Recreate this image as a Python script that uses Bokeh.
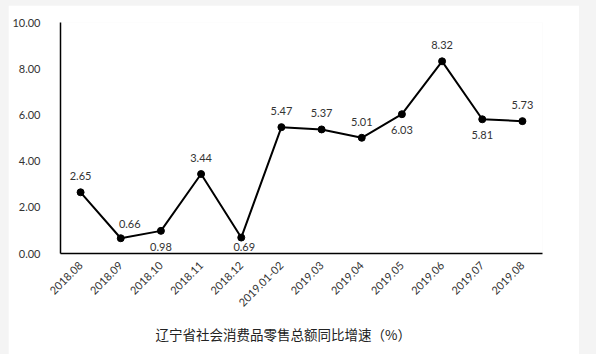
from math import pi
from bokeh.plotting import figure
from bokeh.models import ColumnDataSource, FactorRange, Range1d, NumeralTickFormatter, Title, FixedTicker, CDSView, IndexFilter
from bokeh.layouts import column
from bokeh.embed import file_html
from bokeh.resources import INLINE
from bokeh.core.properties import value

months = ["2018.08", "2018.09", "2018.10", "2018.11", "2018.12", "2019.01-02",
          "2019.03", "2019.04", "2019.05", "2019.06", "2019.07", "2019.08"]
growth = [2.65, 0.66, 0.98, 3.44, 0.69, 5.47, 5.37, 5.01, 6.03, 8.32, 5.81, 5.73]
y_ticks = [0, 2, 4, 6, 8, 10]
chart_title = "辽宁省社会消费品零售总额同比增速（%）"

labels = ["%.2f" % v for v in growth]
src = ColumnDataSource(data=dict(m=months, v=growth, t=labels))

p = figure(x_range=FactorRange(*months, range_padding=0), y_range=Range1d(0, 10),
           width=571, height=349, output_backend="svg", toolbar_location=None,
           min_border_left=52, min_border_right=37, min_border_top=17, min_border_bottom=101,
           background_fill_color="white", border_fill_color="white", outline_line_color=None)
p.margin = (5, 17, 0, 8)

p.line("m", "v", source=src, line_color="black", line_width=2)
p.scatter("m", "v", source=src, size=7, fill_color="black", line_color="black")

FONT = "Lato"
common = dict(source=src, text_font=value(FONT), text_font_size="11px", text_color="#333333",
              text_align="center", text_baseline="middle")
p.text("m", "v", text="t", y_offset=-16, view=CDSView(filter=IndexFilter([0, 3, 5, 6, 7, 9, 11])), **common)
p.text("m", "v", text="t", y_offset=-14, x_offset=9, view=CDSView(filter=IndexFilter([1])), **common)
p.text("m", "v", text="t", y_offset=16, view=CDSView(filter=IndexFilter([2, 8, 10])), **common)
p.text("m", "v", text="t", y_offset=9, x_offset=3, view=CDSView(filter=IndexFilter([4])), **common)

p.xgrid.grid_line_color = None
p.ygrid.grid_line_color = None

p.yaxis.ticker = FixedTicker(ticks=y_ticks)
p.yaxis.formatter = NumeralTickFormatter(format="0.00")
p.yaxis.major_tick_line_color = None
p.yaxis.minor_tick_line_color = None
p.yaxis.major_label_standoff = 14
p.yaxis.axis_line_color = "black"
p.yaxis.axis_line_width = 1.5
p.yaxis.major_label_text_font = FONT
p.yaxis.major_label_text_font_size = "11px"
p.yaxis.major_label_text_color = "#333333"

p.xaxis.major_tick_line_color = None
p.xaxis.major_tick_out = 0
p.xaxis.axis_line_color = "black"
p.xaxis.axis_line_width = 1.5
p.xaxis.major_label_orientation = pi / 4
p.xaxis.major_label_standoff = 10
p.xaxis.major_label_text_font = FONT
p.xaxis.major_label_text_font_size = "11px"
p.xaxis.major_label_text_color = "#333333"

t = Title(text=chart_title, align="left", offset=95, standoff=19,
          text_font="Noto Sans CJK SC", text_font_size="13.5px",
          text_font_style="normal", text_color="#222222")
p.add_layout(t, "below")

layout = column(p, styles={"background-color": "#f4f4f4"}, width=596, height=354)
open("out.html", "w").write(file_html(layout, INLINE))
